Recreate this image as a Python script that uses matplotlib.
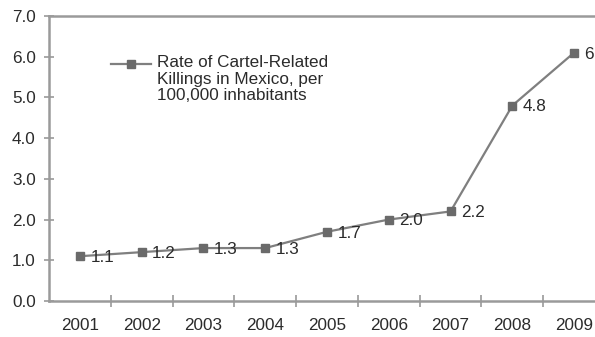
import matplotlib
matplotlib.use("Agg")
import matplotlib.pyplot as plt

years = ["2001", "2002", "2003", "2004", "2005", "2006", "2007", "2008", "2009"]
rates = [1.1, 1.2, 1.3, 1.3, 1.7, 2.0, 2.2, 4.8, 6.1]
y_ticks = [0.0, 1.0, 2.0, 3.0, 4.0, 5.0, 6.0, 7.0]
legend_label = "Rate of Cartel-Related\nKillings in Mexico, per\n100,000 inhabitants"

plt.rcParams["font.family"] = ["Liberation Sans", "DejaVu Sans"]

line_col = "#7f7f7f"
marker_col = "#6a6a6a"
spine_col = "#9a9a9a"
text_col = "#2b2b2b"
fs = 12.3

fig = plt.figure(figsize=(5.95, 3.37), dpi=100)
ax = fig.add_axes([49 / 595, 1 - 301 / 337, 556 / 595, 285 / 337])

x = list(range(len(years)))
ax.plot(x, rates, color=line_col, lw=1.6, marker="s", ms=6.3,
        mfc=marker_col, mec=marker_col, zorder=3, clip_on=False)
for xi, v in zip(x, rates):
    ax.annotate(f"{v:.1f}", (xi, v), xytext=(7.5, -1), textcoords="offset points",
                ha="left", va="center", fontsize=fs, color=text_col)

ax.set_xlim(-0.5, len(years) - 0.5)
ax.set_ylim(0, 7)
ax.set_yticks(y_ticks)
ax.set_yticklabels([f"{t:.1f}" for t in y_ticks])
ax.set_xticks(x)
ax.set_xticklabels(years)
ax.set_xticks([i + 0.5 for i in x[:-1]], minor=True)

ax.tick_params(axis="x", which="major", length=0, pad=12.5, labelsize=fs, labelcolor=text_col)
ax.tick_params(axis="x", which="minor", direction="inout", length=8, width=1.2, color=spine_col)
ax.tick_params(axis="y", direction="inout", length=7, width=1.2, color=spine_col,
               labelsize=fs, labelcolor=text_col, pad=6)

for side in ["left", "bottom", "top"]:
    ax.spines[side].set_color(spine_col)
    ax.spines[side].set_linewidth(1.8)
ax.spines["right"].set_visible(False)

# legend key drawn beside the first line of the three-line label
ax.plot([0.111, 0.184], [0.832, 0.832], transform=ax.transAxes, color=line_col,
        lw=1.6, clip_on=False)
ax.plot([0.1475], [0.832], transform=ax.transAxes, marker="s", ms=6.3,
        mfc=marker_col, mec=marker_col, clip_on=False)
ax.text(0.194, 0.862, legend_label, transform=ax.transAxes, ha="left", va="top",
        fontsize=fs, color=text_col, linespacing=1.12)

fig.savefig("out.png", dpi=100, facecolor="white")
